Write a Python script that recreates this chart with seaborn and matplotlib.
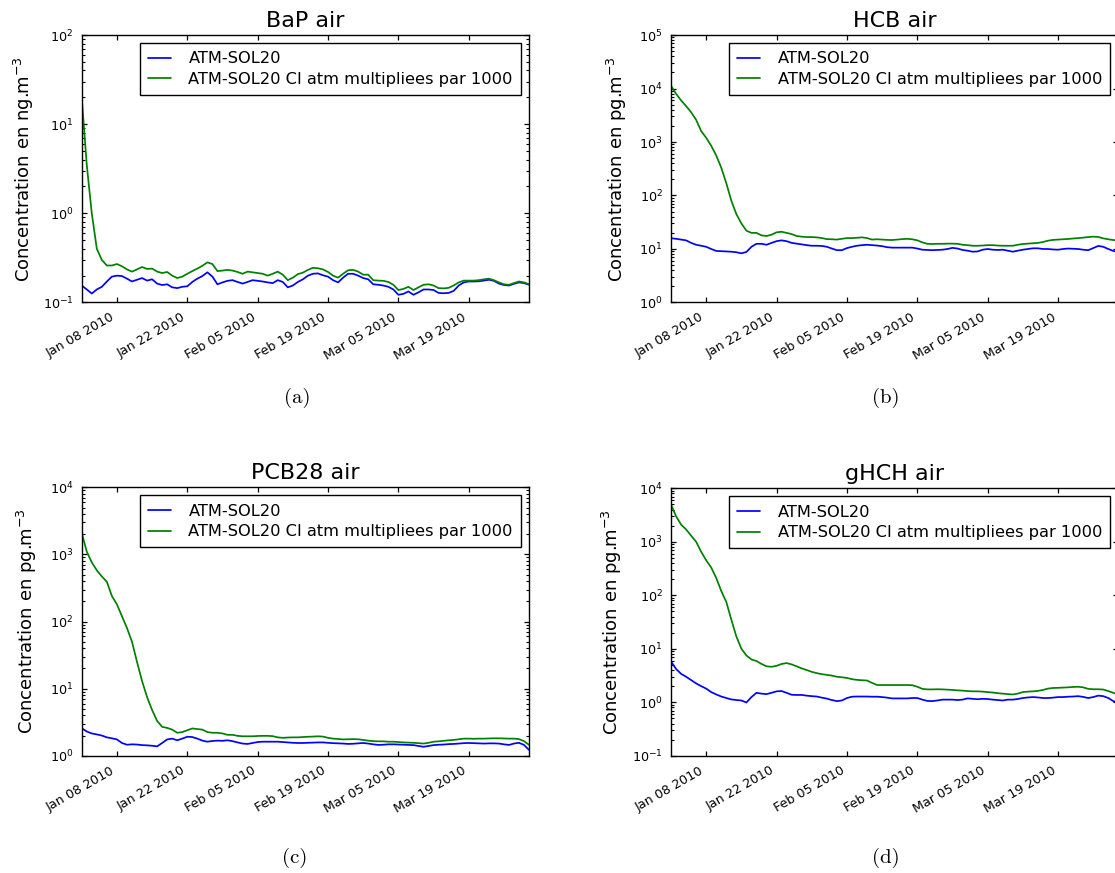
import numpy as np
import pandas as pd
import matplotlib
matplotlib.use("Agg")
import matplotlib.pyplot as plt
import matplotlib.dates as mdates
from matplotlib.ticker import LogLocator, NullFormatter
import seaborn as sns

# --- donnees (une valeur par jour, 1 janv -> 31 mars 2010) ---
dates = pd.date_range("2010-01-01", "2010-03-31", freq="D")
tick_dates = ["2010-01-08", "2010-01-22", "2010-02-05", "2010-02-19", "2010-03-05", "2010-03-19"]

titles = ["BaP air", "HCB air", "PCB28 air", "gHCH air"]
ylabels = ["Concentration en ng.m$^{-3}$", "Concentration en pg.m$^{-3}$",
           "Concentration en pg.m$^{-3}$", "Concentration en pg.m$^{-3}$"]
captions = ["(a)", "(b)", "(c)", "(d)"]
series_names = ["ATM-SOL20", "ATM-SOL20 CI atm multipliees par 1000"]
ylims = [(1e-1, 1e2), (1e0, 1e5), (1e0, 1e4), (1e-1, 1e4)]

bap_ref = [0.155, 0.14, 0.126, 0.14, 0.15, 0.172, 0.195, 0.2, 0.198, 0.185,
           0.172, 0.18, 0.188, 0.176, 0.182, 0.163, 0.157, 0.16, 0.148, 0.145,
           0.15, 0.152, 0.17, 0.185, 0.198, 0.218, 0.195, 0.16, 0.168, 0.175,
           0.178, 0.17, 0.163, 0.17, 0.178, 0.175, 0.172, 0.168, 0.165, 0.178,
           0.17, 0.148, 0.155, 0.17, 0.182, 0.2, 0.21, 0.212, 0.202, 0.195,
           0.178, 0.168, 0.19, 0.21, 0.21, 0.2, 0.188, 0.182, 0.16, 0.158,
           0.155, 0.15, 0.14, 0.122, 0.125, 0.133, 0.122, 0.13, 0.14, 0.14,
           0.138, 0.128, 0.127, 0.128, 0.135, 0.155, 0.168, 0.172, 0.172, 0.173,
           0.176, 0.18, 0.175, 0.163, 0.157, 0.155, 0.162, 0.168, 0.165, 0.158]
bap_x1000 = [20.0, 3.5, 1.0, 0.4, 0.3, 0.26, 0.26, 0.27, 0.255, 0.235,
             0.222, 0.235, 0.25, 0.238, 0.24, 0.222, 0.214, 0.22, 0.2, 0.188,
             0.195, 0.21, 0.225, 0.24, 0.258, 0.282, 0.27, 0.225, 0.228, 0.232,
             0.228, 0.22, 0.21, 0.222, 0.218, 0.214, 0.21, 0.2, 0.21, 0.222,
             0.205, 0.178, 0.19, 0.208, 0.216, 0.232, 0.245, 0.242, 0.235, 0.22,
             0.2, 0.19, 0.21, 0.23, 0.232, 0.222, 0.205, 0.205, 0.178, 0.176,
             0.175, 0.17, 0.158, 0.138, 0.142, 0.15, 0.138, 0.148, 0.158, 0.16,
             0.155, 0.145, 0.144, 0.146, 0.155, 0.168, 0.176, 0.176, 0.176, 0.178,
             0.182, 0.185, 0.178, 0.168, 0.16, 0.158, 0.165, 0.172, 0.168, 0.16]

hcb_ref = [15.9, 15.5, 15.0, 14.5, 13.0, 12.0, 11.5, 11.0, 10.0, 9.2,
           9.1, 9.0, 8.9, 8.7, 8.3, 8.8, 11.0, 12.5, 12.5, 12.0,
           13.0, 14.0, 14.5, 14.0, 13.0, 12.6, 12.2, 11.8, 11.5, 11.5,
           11.4, 11.0, 10.2, 9.5, 9.5, 10.4, 11.0, 11.5, 11.8, 12.0,
           11.8, 11.6, 11.3, 10.8, 10.6, 10.6, 10.6, 10.6, 10.6, 10.2,
           9.7, 9.6, 9.5, 9.6, 9.7, 10.0, 10.5, 10.2, 9.6, 9.3,
           8.9, 9.0, 9.7, 10.0, 9.7, 9.6, 9.7, 9.3, 8.9, 9.3,
           9.7, 10.0, 10.3, 10.3, 10.0, 10.0, 9.8, 9.7, 10.0, 10.2,
           10.1, 10.0, 9.7, 9.5, 10.4, 11.4, 11.0, 10.0, 9.2, 8.8]
hcb_x1000 = [11200, 8000, 6000, 4700, 3600, 2600, 1600, 1200, 850, 560,
             330, 170, 80, 45, 30, 22, 20, 20, 18, 17.5,
             18.5, 20.5, 21, 20, 19, 17.5, 17, 16.7, 16.7, 16.5,
             16, 15.3, 15.2, 15, 15.5, 16, 16, 16.2, 16.5, 16,
             15, 15.2, 15, 14.8, 14.7, 15, 15.3, 15.5, 15.2, 14.5,
             13.3, 12.5, 12.4, 12.5, 12.5, 12.6, 12.6, 12.5, 12, 11.8,
             11.5, 11.5, 11.6, 11.8, 11.8, 11.6, 11.5, 11.5, 11.5, 12,
             12.4, 12.6, 12.8, 13, 13.5, 14.3, 14.8, 15, 15.2, 15.4,
             15.7, 16, 16.3, 16.7, 17, 16.8, 15.8, 15.2, 14.7, 14.5]

pcb28_ref = [2.57, 2.3, 2.15, 2.08, 2.0, 1.88, 1.82, 1.75, 1.55, 1.46,
             1.48, 1.47, 1.44, 1.43, 1.41, 1.38, 1.55, 1.75, 1.8, 1.7,
             1.8, 1.92, 1.9, 1.8, 1.68, 1.62, 1.66, 1.68, 1.67, 1.7,
             1.65, 1.58, 1.52, 1.5, 1.55, 1.6, 1.62, 1.62, 1.62, 1.62,
             1.6, 1.58, 1.56, 1.55, 1.55, 1.56, 1.57, 1.58, 1.58, 1.56,
             1.54, 1.53, 1.52, 1.5, 1.51, 1.53, 1.55, 1.52, 1.48, 1.45,
             1.46, 1.48, 1.48, 1.47, 1.46, 1.45, 1.44, 1.4, 1.36, 1.4,
             1.44, 1.46, 1.47, 1.49, 1.5, 1.52, 1.54, 1.55, 1.54, 1.53,
             1.52, 1.53, 1.53, 1.52, 1.48, 1.45, 1.52, 1.56, 1.45, 1.22]
pcb28_x1000 = [2100, 1100, 760, 580, 470, 390, 240, 180, 120, 80,
               50, 25, 13, 7.5, 4.8, 3.3, 2.7, 2.6, 2.45, 2.2,
               2.25, 2.4, 2.55, 2.5, 2.45, 2.25, 2.2, 2.2, 2.15, 2.05,
               2.05, 1.98, 1.95, 1.95, 1.95, 1.97, 1.98, 1.98, 1.96, 1.88,
               1.85, 1.87, 1.88, 1.88, 1.9, 1.92, 1.93, 1.95, 1.93, 1.85,
               1.8, 1.78, 1.75, 1.76, 1.77, 1.76, 1.72, 1.68, 1.65, 1.64,
               1.64, 1.62, 1.62, 1.6, 1.58, 1.57, 1.56, 1.54, 1.52, 1.56,
               1.62, 1.64, 1.67, 1.7, 1.72, 1.76, 1.8, 1.8, 1.79, 1.8,
               1.8, 1.81, 1.82, 1.82, 1.81, 1.8, 1.8, 1.77, 1.65, 1.45]

ghch_ref = [5.8, 4.2, 3.4, 3.0, 2.6, 2.25, 2.0, 1.8, 1.55, 1.4,
            1.28, 1.2, 1.13, 1.1, 1.08, 0.99, 1.25, 1.5, 1.45, 1.42,
            1.5, 1.6, 1.62, 1.5, 1.38, 1.37, 1.37, 1.33, 1.3, 1.28,
            1.22, 1.17, 1.1, 1.05, 1.08, 1.2, 1.27, 1.28, 1.28, 1.28,
            1.27, 1.27, 1.25, 1.22, 1.18, 1.18, 1.18, 1.18, 1.2, 1.2,
            1.12, 1.06, 1.05, 1.08, 1.12, 1.12, 1.12, 1.1, 1.12, 1.18,
            1.16, 1.14, 1.16, 1.15, 1.12, 1.1, 1.08, 1.12, 1.12, 1.15,
            1.2, 1.23, 1.25, 1.23, 1.2, 1.2, 1.22, 1.25, 1.25, 1.27,
            1.28, 1.3, 1.26, 1.2, 1.25, 1.33, 1.3, 1.2, 1.05, 0.98]
ghch_x1000 = [5000, 3000, 2100, 1700, 1300, 1000, 650, 450, 330, 210,
              120, 75, 35, 17, 10, 7.5, 6.3, 5.9, 5.2, 4.7,
              4.6, 4.8, 5.2, 5.4, 5.1, 4.7, 4.3, 4.0, 3.7, 3.5,
              3.35, 3.25, 3.15, 3.0, 2.93, 2.85, 2.7, 2.62, 2.58, 2.55,
              2.3, 2.1, 2.1, 2.1, 2.1, 2.1, 2.1, 2.1, 2.08, 1.95,
              1.78, 1.74, 1.74, 1.75, 1.74, 1.72, 1.7, 1.67, 1.65, 1.62,
              1.6, 1.6, 1.58, 1.55, 1.52, 1.48, 1.45, 1.42, 1.4, 1.45,
              1.55, 1.58, 1.6, 1.63, 1.7, 1.8, 1.85, 1.86, 1.88, 1.9,
              1.93, 1.95, 1.9, 1.78, 1.75, 1.75, 1.73, 1.62, 1.5, 1.4]

panels = [(bap_ref, bap_x1000), (hcb_ref, hcb_x1000),
          (pcb28_ref, pcb28_x1000), (ghch_ref, ghch_x1000)]

# --- style "classique" matplotlib ---
sns.set_theme(style="ticks", rc={
    "axes.edgecolor": "black", "axes.linewidth": 1.0,
    "xtick.direction": "in", "ytick.direction": "in",
    "xtick.color": "black", "ytick.color": "black",
    "axes.labelcolor": "black", "text.color": "black",
})
plt.rcParams["font.family"] = ["DejaVu Sans"]

fig = plt.figure(figsize=(11.15, 8.73), dpi=100)

# positions des axes en coordonnees figure (la colonne de droite depasse le bord, comme l'original)
positions = [[0.0733, 0.6535, 0.4012, 0.3064],
             [0.6018, 0.6535, 0.4012, 0.3064],
             [0.0733, 0.1343, 0.4012, 0.3075],
             [0.6018, 0.1343, 0.4012, 0.3064]]
label_x = [-0.102, -0.094, -0.096, -0.105]
caption_xy = [(0.2664, 0.5441), (0.7946, 0.5441), (0.2646, 0.0172), (0.7946, 0.0172)]

for i, (ref, x1000) in enumerate(panels):
    ax = fig.add_axes(positions[i])
    df = pd.DataFrame({"date": dates, "ref": ref, "x1000": x1000})
    sns.lineplot(data=df, x="date", y="ref", ax=ax, color="#0000ff", lw=1.25, label=series_names[0])
    sns.lineplot(data=df, x="date", y="x1000", ax=ax, color="#008000", lw=1.25, label=series_names[1])

    ax.set_yscale("log")
    ax.set_ylim(*ylims[i])
    ax.set_xlim(dates[0], dates[-1])
    ax.yaxis.set_major_locator(LogLocator(base=10.0, numticks=20))
    ax.yaxis.set_minor_locator(LogLocator(base=10.0, subs=(2., 3., 4., 5., 6., 7., 8., 9.), numticks=100))
    ax.yaxis.set_minor_formatter(NullFormatter())
    ax.set_xticks(pd.to_datetime(tick_dates))
    ax.xaxis.set_major_formatter(mdates.DateFormatter("%b %d %Y"))
    ax.tick_params(which="both", direction="in", top=True, right=True, color="black")
    ax.tick_params(which="major", length=3.6, width=0.9, labelsize=9.2, pad=6)
    ax.tick_params(axis="y", which="minor", length=2.2, width=0.8, left=True, right=True)
    plt.setp(ax.get_xticklabels(), rotation=30, ha="right")

    ax.set_xlabel("")
    ax.set_ylabel(ylabels[i], fontsize=13)
    ax.yaxis.set_label_coords(label_x[i], 0.5)
    ax.set_title(titles[i], fontsize=16)
    ax.legend(loc="upper right", frameon=True, fancybox=False, edgecolor="black",
              framealpha=1, fontsize=11.7, handlelength=1.4, handletextpad=1.1,
              borderaxespad=0.5, labelspacing=0.35, borderpad=0.5)
    ax.get_legend().get_frame().set_linewidth(1.0)

    fig.text(*caption_xy[i], captions[i], family=["cmr10", "DejaVu Serif"],
             fontsize=15, ha="center", va="center")

fig.savefig("out.png", dpi=100)
